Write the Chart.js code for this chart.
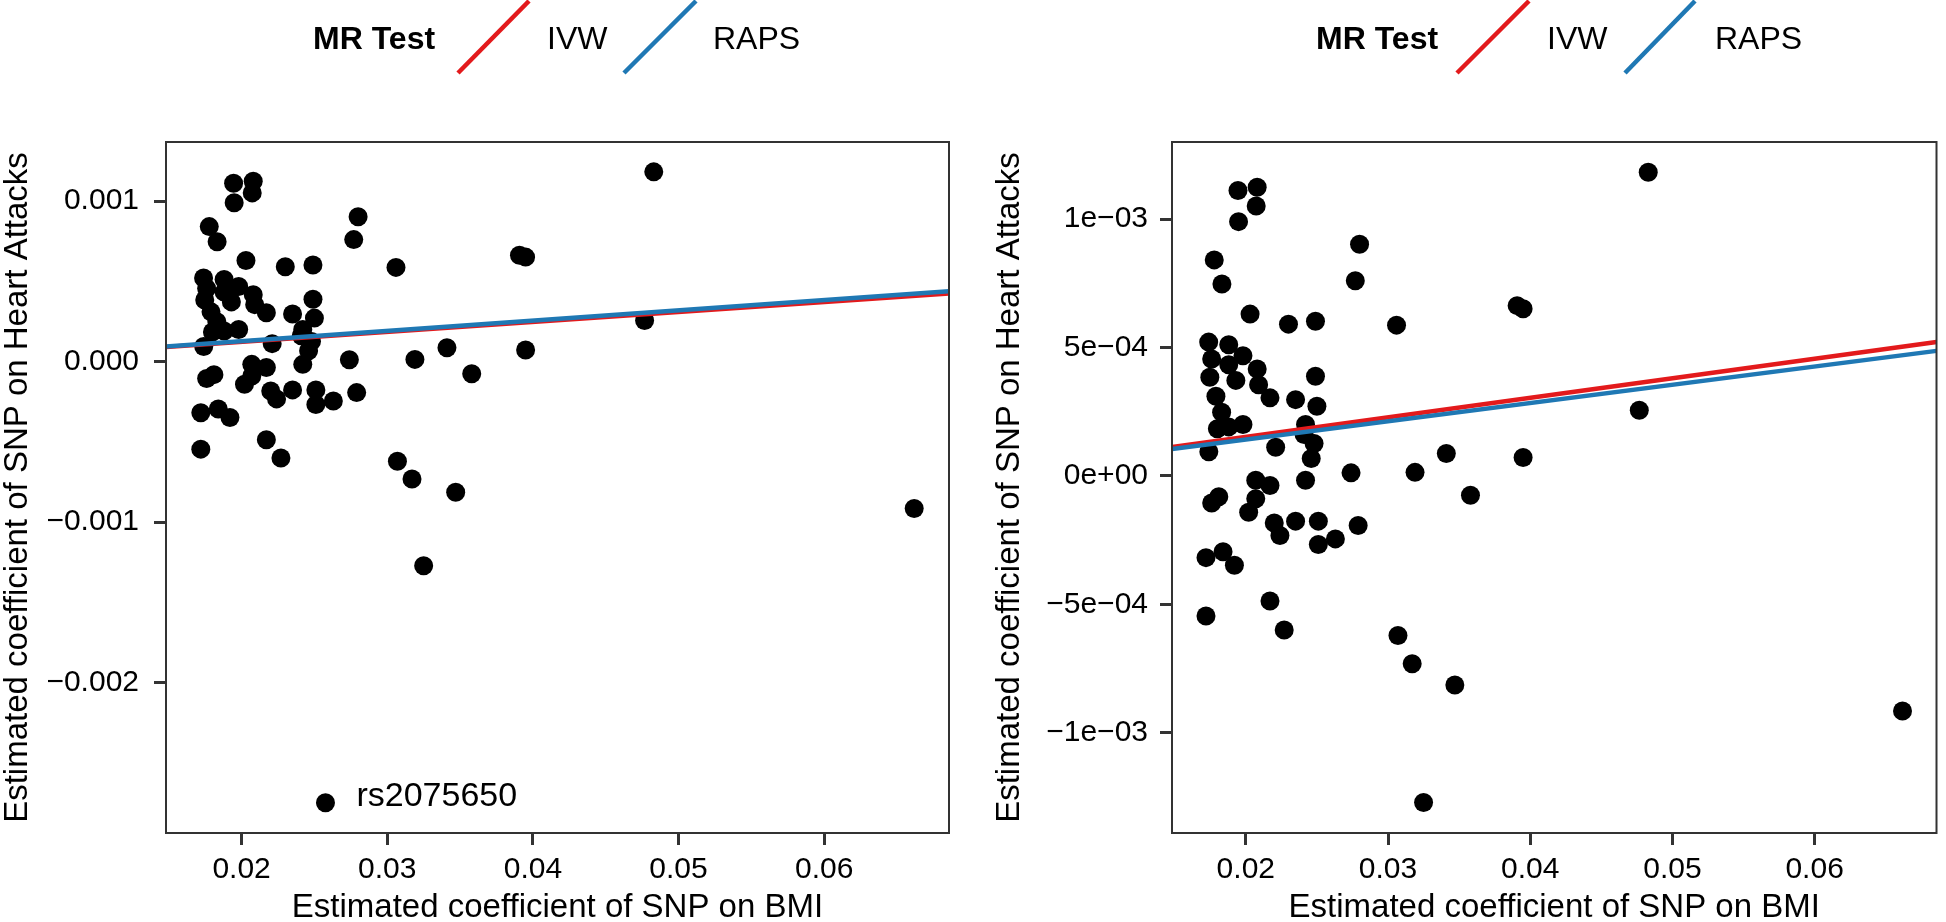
<!DOCTYPE html>
<html>
<head>
<meta charset="utf-8">
<script src="https://cdn.jsdelivr.net/npm/chart.js@4.4.1/dist/chart.umd.min.js"></script>
<style>
  body { margin: 0; background: #fff; }
  #wrap { position: relative; width: 1946px; height: 922px; }
  canvas { position: absolute; top: 0; }
  #left { left: 0; }
  #right { left: 973px; }
  svg { position: absolute; left: 0; top: 0; }
</style>
</head>
<body>
<div id="wrap">
  <canvas id="left" width="973" height="922"></canvas>
  <canvas id="right" width="973" height="922"></canvas>
  <svg width="1946" height="80" font-family="Liberation Sans, Arial, sans-serif" font-size="32">
    <text x="313" y="49" font-weight="bold">MR Test</text>
    <line x1="458" y1="73" x2="529" y2="1" stroke="#E31A1C" stroke-width="4.5"/>
    <text x="547" y="49">IVW</text>
    <line x1="624" y1="73" x2="696" y2="1" stroke="#1F78B4" stroke-width="4.5"/>
    <text x="713" y="49">RAPS</text>
    <text x="1316" y="49" font-weight="bold">MR Test</text>
    <line x1="1457" y1="73" x2="1529" y2="1" stroke="#E31A1C" stroke-width="4.5"/>
    <text x="1547" y="49">IVW</text>
    <line x1="1625" y1="73" x2="1695" y2="1" stroke="#1F78B4" stroke-width="4.5"/>
    <text x="1715" y="49">RAPS</text>
  </svg>
</div>
<script>
// SNP effects on BMI (x) and on heart attacks (y)
const bmiBeta = [
  0.01945, 0.0208, 0.02073, 0.01949, 0.01778, 0.01832, 0.0280, 0.0277, 0.03908, 0.0395,
  0.0203, 0.0230, 0.0249, 0.0306, 0.01739, 0.0188, 0.0198, 0.0176, 0.0188, 0.0208,
  0.01747, 0.0193, 0.0209, 0.0249, 0.0179, 0.0217, 0.0235, 0.0250, 0.0183, 0.0180,
  0.0188, 0.0198, 0.0242, 0.0241, 0.0248, 0.0221, 0.0174, 0.0246, 0.0341, 0.0395,
  0.0274, 0.0319, 0.0483, 0.04767, 0.06618, 0.0242, 0.0207, 0.0217, 0.0358, 0.0181,
  0.0176, 0.0207, 0.0202, 0.0220, 0.0235, 0.0251, 0.0279, 0.0224, 0.0251, 0.0263,
  0.0172, 0.0184, 0.0192, 0.0217, 0.0172, 0.0227, 0.0307, 0.0317, 0.0347, 0.0325
];
const heartBeta = [
  0.001111, 0.001124, 0.001051, 0.000990, 0.000841, 0.000747, 0.000902, 0.000760, 0.000663, 0.000651,
  0.000630, 0.000591, 0.000602, 0.000587, 0.000521, 0.000511, 0.000468, 0.000455, 0.000433, 0.000416,
  0.000384, 0.000372, 0.000355, 0.000388, 0.000310, 0.000304, 0.000297, 0.000271, 0.000248, 0.000184,
  0.000191, 0.000200, 0.000200, 0.000161, 0.000126, 0.000112, 0.000094, 0.000068, 0.000087, 0.000072,
  0.000012, 0.000014, 0.001182, 0.000256, -0.000915, -0.000017, -0.000017, -0.000037, -0.000075, -0.000081,
  -0.000105, -0.000089, -0.000141, -0.000183, -0.000176, -0.000176, -0.000193, -0.000232, -0.000267, -0.000245,
  -0.000318, -0.000295, -0.000348, -0.000487, -0.000545, -0.000600, -0.000621, -0.000731, -0.000814, -0.001271
];

// outlying SNP, shown only in the left panel
const outlierBmi = [0.02576];
const outlierHeart = [-0.002748];
const outlierName = ['rs2075650'];

const methods = ['IVW', 'RAPS'];
const methodColors = ['#E31A1C', '#1F78B4'];
const leftSlopes = [0.0062, 0.0064];
const rightSlopes = [0.0076, 0.0071];

const xRange = [0.01481, 0.06857];
const xTicks = [0.02, 0.03, 0.04, 0.05, 0.06];
const xTickLabels = ['0.02', '0.03', '0.04', '0.05', '0.06'];

const leftYRange = [-0.002936, 0.001368];
const leftYTicks = [-0.002, -0.001, 0, 0.001];
const leftYTickLabels = ['\u22120.002', '\u22120.001', '0.000', '0.001'];

const rightYRange = [-0.00139, 0.0013];
const rightYTicks = [-0.001, -0.0005, 0, 0.0005, 0.001];
const rightYTickLabels = ['\u22121e\u221203', '\u22125e\u221204', '0e+00', '5e\u221204', '1e\u221203'];

Chart.defaults.font.family = 'Liberation Sans, Arial, Helvetica, sans-serif';
Chart.defaults.color = '#000';

const panelBox = {
  id: 'panelBox',
  afterDraw(chart) {
    const a = chart.chartArea;
    const ctx = chart.ctx;
    ctx.save();
    ctx.strokeStyle = '#333';
    ctx.lineWidth = 2;
    ctx.strokeRect(a.left, a.top, a.right - a.left, a.bottom - a.top);
    ctx.restore();
  }
};

const snpLabel = {
  id: 'snpLabel',
  afterDatasetsDraw(chart, args, opts) {
    if (!opts.show) return;
    const ctx = chart.ctx;
    const sx = chart.scales.x, sy = chart.scales.y;
    ctx.save();
    ctx.font = '34px Liberation Sans, Arial, sans-serif';
    ctx.fillStyle = '#000';
    ctx.textBaseline = 'middle';
    outlierName.forEach((name, i) => {
      ctx.fillText(name, sx.getPixelForValue(outlierBmi[i]) + 31, sy.getPixelForValue(outlierHeart[i]) - 6);
    });
    ctx.restore();
  }
};

function makePanel(id, withOutlier, slopes, yRange, yTicks, yLabels, axisWidth, titlePad, labelPad, padRight) {
  const pts = bmiBeta.map((x, i) => ({x: x, y: heartBeta[i]}));
  if (withOutlier) {
    outlierBmi.forEach((x, i) => pts.push({x: x, y: outlierHeart[i]}));
  }
  const lines = methods.map((m, k) => ({
    type: 'line',
    label: m,
    data: xRange.map(x => ({x: x, y: slopes[k] * x})),
    borderColor: methodColors[k],
    borderWidth: 4.5,
    pointRadius: 0,
    fill: false,
    order: k === 1 ? 0 : 1
  }));

  new Chart(document.getElementById(id), {
    type: 'scatter',
    data: {
      datasets: [
        ...lines,
        {
          label: 'SNP',
          data: pts,
          backgroundColor: '#000',
          borderWidth: 0,
          pointRadius: 9.5,
          pointHoverRadius: 9.5,
          order: 2
        }
      ]
    },
    options: {
      responsive: false,
      animation: false,
      events: [],
      layout: { padding: { top: 142, right: padRight, left: 0, bottom: 0 } },
      plugins: {
        legend: { display: false },
        tooltip: { enabled: false },
        snpLabel: { show: withOutlier }
      },
      scales: {
        x: {
          type: 'linear',
          min: xRange[0],
          max: xRange[1],
          afterBuildTicks: s => { s.ticks = xTicks.map(v => ({value: v})); },
          afterFit: s => { s.height = 89; },
          ticks: {
            callback: (v, i) => xTickLabels[i],
            font: { size: 30 },
            padding: 7,
            maxRotation: 0,
            autoSkip: false
          },
          grid: { drawOnChartArea: false, tickLength: 12, tickWidth: 3, tickColor: '#333' },
          border: { display: false },
          title: {
            display: true,
            text: 'Estimated coefficient of SNP on BMI',
            font: { size: 33, lineHeight: 0.85 },
            padding: 0
          }
        },
        y: {
          type: 'linear',
          min: yRange[0],
          max: yRange[1],
          afterBuildTicks: s => { s.ticks = yTicks.map(v => ({value: v})); },
          afterFit: s => { s.width = axisWidth; },
          ticks: {
            callback: (v, i) => yLabels[i],
            font: { size: 30 },
            padding: labelPad,
            autoSkip: false
          },
          grid: { drawOnChartArea: false, tickLength: 12, tickWidth: 3, tickColor: '#333' },
          border: { display: false },
          title: {
            display: true,
            text: 'Estimated coefficient of SNP on Heart Attacks',
            font: { size: 33, lineHeight: 1.1 },
            padding: { top: titlePad, bottom: 0 }
          }
        }
      }
    },
    plugins: [panelBox, snpLabel]
  });
}

makePanel('left', true, leftSlopes, leftYRange, leftYTicks, leftYTickLabels, 166, 0, 15, 24);
makePanel('right', false, rightSlopes, rightYRange, rightYTicks, rightYTickLabels, 199, 19, 12, 1);
</script>
</body>
</html>
